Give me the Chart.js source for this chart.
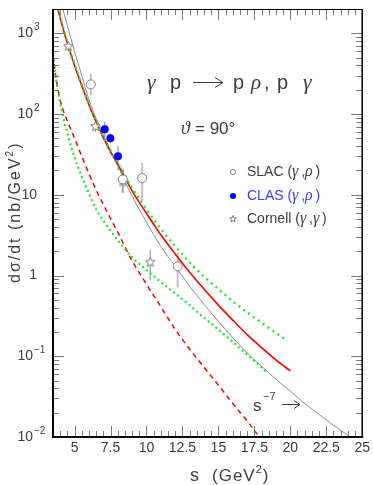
<!DOCTYPE html>
<html>
<head>
<meta charset="utf-8">
<script src="https://cdn.jsdelivr.net/npm/chart.js@4"></script>
<style>
  html, body { margin: 0; padding: 0; background: #fff; }
</style>
</head>
<body>
<canvas id="chart" width="373" height="485"></canvas>
<script>
// axis ticks
const xTicks    = [5, 7.5, 10, 12.5, 15, 17.5, 20, 22.5, 25];
const yTickVals = [0.01, 0.1, 1, 10, 100, 1000];
const yTickBase = ['10', '10', '1', '10', '10', '10'];
const yTickExp  = ['\u22122', '\u22121', '', '', '2', '3'];

// s^-7 reference line (gray)
const grayS = [4.1, 4.5, 5, 5.5, 6, 6.5, 7, 7.5, 8, 9, 10, 11, 12, 13, 14, 15, 16, 17, 18, 19, 20, 21, 22, 23, 24, 24.4];
const grayV = [2250, 1250, 590, 300, 150, 88, 56, 35, 23, 9.6, 4.6, 2.3, 1.3, 0.74, 0.44, 0.27, 0.17, 0.11, 0.075, 0.052, 0.037, 0.026, 0.019, 0.014, 0.0105, 0.0093];

// red solid
const redS = [3.75, 4, 4.5, 5, 5.5, 6, 6.5, 7, 7.5, 8, 9, 10, 11, 12, 13, 14, 15, 16, 17, 18, 19, 20];
const redV = [2300, 1550, 750, 400, 225, 130, 80, 51, 34, 24, 11.2, 5.9, 3.2, 1.85, 1.1, 0.68, 0.43, 0.28, 0.185, 0.128, 0.09, 0.066];

// green dotted (upper)
const greenS = [3.75, 4, 4.5, 5, 5.5, 6, 6.5, 7, 7.5, 8, 9, 10, 11, 12, 13, 14, 15, 16, 17, 18, 19, 19.8];
const greenV = [2350, 1600, 770, 410, 230, 132, 82, 52, 35, 25, 12.2, 6.6, 3.8, 2.3, 1.45, 0.97, 0.68, 0.48, 0.35, 0.26, 0.195, 0.155];

// red dashed
const redDashS = [3.5, 3.65, 3.8, 4.0, 4.2, 4.5, 5, 5.5, 6, 6.5, 7, 7.5, 8, 9, 10, 11, 12, 13, 14, 15, 16, 17, 17.7];
const redDashV = [540, 330, 225, 150, 112, 82, 50, 30, 18.2, 11.5, 7.6, 5.1, 3.45, 1.52, 0.78, 0.41, 0.215, 0.123, 0.073, 0.044, 0.026, 0.0158, 0.0108];

// green dotted (lower)
const greenLowS = [3.5, 3.65, 3.8, 4.0, 4.2, 4.6, 5, 5.5, 6, 6.5, 7, 7.5, 8, 9, 10, 11, 12, 13, 14, 15, 16, 17, 18, 18.3];
const greenLowV = [540, 320, 215, 140, 93, 50, 29, 16.7, 10.5, 6.6, 4.8, 3.6, 2.75, 1.68, 1.17, 0.83, 0.6, 0.43, 0.30, 0.214, 0.15, 0.105, 0.073, 0.064];

// data points with error bars
const slacS  = [6.13, 8.35, 9.7, 12.17];
const slacV  = [233, 15.5, 16.1, 1.3];
const slacLo = [170, 10.5, 8.3, 0.71];
const slacHi = [310, 21, 25, 1.92];

const clasS  = [7.1, 7.49, 8.02];
const clasV  = [65, 50, 30];
const clasLo = [52, 44, 20];
const clasHi = [80, 57, 40];

const cornS  = [4.56, 6.45, 8.35, 10.26];
const cornV  = [690, 70, 14.5, 1.46];
const cornLo = [600, 60, 10.5, 0.88];
const cornHi = [790, 80, 20.6, 2.1];

const SANS = '"Liberation Sans", Arial, sans-serif';
const SERIF = '"Liberation Serif", "DejaVu Serif", serif';
const TXT = '#3c3c3c';

function sans(px) { return px + 'px ' + SANS; }
function greek(px) { return 'italic ' + px + 'px ' + SERIF; }

function pts(s, v) {
  return s.map((x, i) => ({ x, y: v[i] }));
}

function makeStar(r, color) {
  const c = document.createElement('canvas');
  const n = Math.ceil(r * 2 + 3);
  c.width = c.height = n;
  const g = c.getContext('2d');
  g.translate(n / 2, n / 2);
  g.beginPath();
  for (let i = 0; i < 10; i++) {
    const rr = i % 2 ? r * 0.45 : r;
    const a = -Math.PI / 2 + i * Math.PI / 5;
    g.lineTo(rr * Math.cos(a), rr * Math.sin(a));
  }
  g.closePath();
  g.fillStyle = '#fff';
  g.fill();
  g.strokeStyle = color;
  g.lineWidth = 1;
  g.stroke();
  return c;
}

const starBig   = makeStar(5, '#777');
const starSmall = makeStar(3.5, '#777');

function line(ctx, x1, y1, x2, y2) {
  ctx.beginPath();
  ctx.moveTo(x1, y1);
  ctx.lineTo(x2, y2);
  ctx.stroke();
}

function arrow(ctx, x1, x2, y, len, half) {
  line(ctx, x1, y, x2, y);
  ctx.beginPath();
  ctx.moveTo(x2 - len, y - half);
  ctx.lineTo(x2, y);
  ctx.lineTo(x2 - len, y + half);
  ctx.stroke();
}

// draws a run of [text, font, dy] pieces left to right
function runs(ctx, parts, x, y) {
  parts.forEach(([t, f, dy]) => {
    ctx.font = f;
    ctx.fillText(t, x, y + (dy || 0));
    x += ctx.measureText(t).width;
  });
  return x;
}

function errBars(ctx, x, y, s, lo, hi, color, w) {
  ctx.strokeStyle = color;
  ctx.lineWidth = w;
  s.forEach((v, i) => {
    const px = x.getPixelForValue(v);
    line(ctx, px, y.getPixelForValue(lo[i]), px, y.getPixelForValue(hi[i]));
  });
}

const rootPlugin = {
  id: 'rootStyle',
  beforeDatasetsDraw(chart) {
    const { ctx, chartArea: a, scales: { x, y } } = chart;
    ctx.save();
    ctx.beginPath();
    ctx.rect(a.left, a.top, a.right - a.left, a.bottom - a.top);
    ctx.clip();
    errBars(ctx, x, y, slacS, slacLo, slacHi, '#c2c2c2', 2);
    errBars(ctx, x, y, cornS, cornLo, cornHi, '#8a8a8a', 1);
    errBars(ctx, x, y, clasS, clasLo, clasHi, '#a0a0ff', 1.5);
    ctx.restore();
  },
  afterDraw(chart) {
    const { ctx, chartArea: a, scales: { x, y } } = chart;
    ctx.save();

    // tick marks, all pointing inward
    ctx.strokeStyle = '#777';
    ctx.lineWidth = 1;
    for (let v = 4; v <= 25; v += 0.5) {
      const px = Math.round(x.getPixelForValue(v)) + 0.5;
      const len = v % 2.5 === 0 ? 11 : 6;
      line(ctx, px, a.bottom, px, a.bottom - len);
      line(ctx, px, a.top, px, a.top + len);
    }
    for (let d = -2; d <= 3; d++) {
      for (let m = 1; m <= 9; m++) {
        const val = m * Math.pow(10, d);
        if (val > y.max) break;
        const py = Math.round(y.getPixelForValue(val)) + 0.5;
        const len = m === 1 ? 11 : 6;
        line(ctx, a.left, py, a.left + len, py);
        line(ctx, a.right, py, a.right - len, py);
      }
    }

    // frame
    ctx.strokeStyle = '#000';
    ctx.lineWidth = 1;
    line(ctx, a.left, a.top + 0.5, a.right, a.top + 0.5);
    ctx.lineWidth = 1.5;
    line(ctx, a.right, a.top, a.right, a.bottom);
    ctx.lineWidth = 2;
    line(ctx, a.left, a.top, a.left, a.bottom + 1);
    line(ctx, a.left - 1, a.bottom, a.right + 1, a.bottom);

    // y tick labels with real superscripts
    ctx.fillStyle = TXT;
    ctx.textBaseline = 'middle';
    yTickVals.forEach((v, i) => {
      const py = y.getPixelForValue(v);
      ctx.font = sans(14);
      if (yTickExp[i]) {
        ctx.textAlign = 'right';
        ctx.fillText(yTickBase[i], 33, py);
        ctx.textAlign = 'left';
        ctx.font = sans(10);
        ctx.fillText(yTickExp[i], 34, py - 6);
      } else {
        ctx.textAlign = 'right';
        ctx.fillText(yTickBase[i], 37, py);
      }
    });

    ctx.textAlign = 'left';
    ctx.textBaseline = 'alphabetic';

    // axis titles
    ctx.letterSpacing = '1px';
    runs(ctx, [['s', sans(18)]], 190, 481);
    runs(ctx, [['(GeV', sans(17)], ['2', sans(11), -8], [')', sans(17)]], 212, 481);

    ctx.save();
    ctx.translate(20, 283);
    ctx.rotate(-Math.PI / 2);
    ctx.letterSpacing = '2px';
    runs(ctx, [['d\u03c3/dt (nb/GeV', sans(16)], ['2', sans(10), -7], [')', sans(16)]], 0, 0);
    ctx.restore();
    ctx.letterSpacing = '0px';

    // reaction label
    ctx.fillStyle = TXT;
    ctx.font = greek(22); ctx.fillText('\u03b3', 147, 89);
    ctx.font = sans(20);  ctx.fillText('p', 170, 89);
    ctx.strokeStyle = TXT; ctx.lineWidth = 1;
    arrow(ctx, 193, 223, 82.5, 8, 5);
    ctx.font = sans(20);  ctx.fillText('p', 233, 89);
    ctx.font = greek(21); ctx.fillText('\u03c1', 251, 89);
    ctx.font = sans(20);  ctx.fillText(',', 264, 89);
    ctx.fillText('p', 277, 89);
    ctx.font = greek(22); ctx.fillText('\u03b3', 303, 89);

    // angle
    ctx.font = greek(18); ctx.fillText('\u03d1', 181, 134);
    ctx.font = sans(17);  ctx.fillText('= 90\u00b0', 195, 134);

    // legend
    ctx.textBaseline = 'middle';
    const rows = [
      [172, 'SLAC (', '\u03b3', '\u03c1', TXT],
      [196, 'CLAS (', '\u03b3', '\u03c1', '#3a3aff'],
      [219, 'Cornell (', '\u03b3', '\u03b3', TXT],
    ];
    rows.forEach(([ry, name, g1, g2, col], i) => {
      if (i === 0) {
        ctx.strokeStyle = '#808080'; ctx.lineWidth = 1;
        ctx.beginPath(); ctx.arc(233, ry, 2.5, 0, Math.PI * 2); ctx.stroke();
      } else if (i === 1) {
        ctx.fillStyle = '#0000ff';
        ctx.beginPath(); ctx.arc(233, ry, 3, 0, Math.PI * 2); ctx.fill();
      } else {
        ctx.drawImage(starSmall, 233 - starSmall.width / 2, ry - starSmall.height / 2);
      }
      ctx.fillStyle = col;
      runs(ctx, [[name, sans(14)], [g1, greek(16)], ['\u2009,', sans(14)], [g2, greek(16)], ['\u2009)', sans(14)]], 247, ry);
    });

    // s^-7 arrow label
    ctx.textBaseline = 'alphabetic';
    ctx.fillStyle = TXT;
    ctx.font = sans(17); ctx.fillText('s', 253, 411);
    ctx.font = sans(11); ctx.fillText('\u22127', 263, 400);
    ctx.strokeStyle = TXT;
    arrow(ctx, 282, 300, 404.5, 6, 4);

    ctx.restore();
  }
};

const curve = (s, v, color, width, dash, order) => ({
  data: pts(s, v),
  borderColor: color,
  borderWidth: width,
  borderDash: dash,
  pointRadius: 0,
  fill: false,
  cubicInterpolationMode: 'monotone',
  order,
});

new Chart(document.getElementById('chart'), {
  type: 'line',
  data: {
    datasets: [
      {
        data: pts(slacS, slacV), showLine: false,
        pointRadius: 4.5, pointBorderWidth: 1,
        pointBorderColor: '#808080', pointBackgroundColor: '#fff', order: 0,
      },
      {
        data: pts(clasS, clasV), showLine: false,
        pointRadius: 4, pointBorderWidth: 0,
        pointBorderColor: '#0000ff', pointBackgroundColor: '#0000ff', order: 0,
      },
      {
        data: pts(cornS, cornV), showLine: false,
        pointStyle: starBig, order: 0,
      },
      curve(grayS, grayV, '#8c8c8c', 1, [], 5),
      curve(redDashS, redDashV, '#ff0000', 1.5, [5, 4], 4),
      curve(redS, redV, '#ff0000', 1.6, [], 4),
      curve(greenLowS, greenLowV, '#22e622', 2.2, [2, 3], 3),
      curve(greenS, greenV, '#22e622', 2.4, [2, 4], 3),
    ],
  },
  options: {
    responsive: false,
    animation: false,
    layout: { padding: { top: 9, right: 9, left: 0, bottom: 0 } },
    plugins: { legend: { display: false }, tooltip: { enabled: false } },
    scales: {
      x: {
        type: 'linear', min: 3.5, max: 25,
        afterBuildTicks: s => { s.ticks = xTicks.map(v => ({ value: v })); },
        afterFit: s => { s.height = 48; },
        grid: { display: false, drawTicks: false },
        border: { display: false },
        ticks: {
          color: TXT, padding: 3, maxRotation: 0, autoSkip: false,
          font: { family: SANS, size: 14 },
          callback: v => String(v),
        },
      },
      y: {
        type: 'logarithmic', min: 0.01, max: 2000,
        afterFit: s => { s.width = 53; },
        grid: { display: false, drawTicks: false },
        border: { display: false },
        ticks: { display: false },
      },
    },
  },
  plugins: [rootPlugin],
});
</script>
</body>
</html>
